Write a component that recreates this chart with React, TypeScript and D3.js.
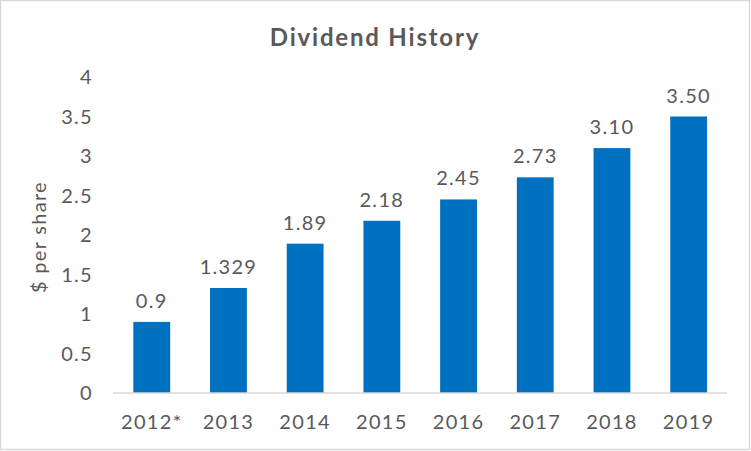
import React from "react";
import * as d3 from "d3";

const categories = ["2012*", "2013", "2014", "2015", "2016", "2017", "2018", "2019"];
const values = [0.9, 1.329, 1.89, 2.18, 2.45, 2.73, 3.1, 3.5];
const valueLabels = ["0.9", "1.329", "1.89", "2.18", "2.45", "2.73", "3.10", "3.50"];
const yTicks = [0, 0.5, 1, 1.5, 2, 2.5, 3, 3.5, 4];

const W = 751;
const H = 451;
const FONT = "Lato, 'Open Sans', sans-serif";
const TEXT = "#595959";
const LS = 1.3;

export default function App() {
  const x = d3.scaleBand<string>().domain(categories).range([113.4, 727]).padding(0);
  const y = d3.scaleLinear().domain([0, 4]).range([393, 77]);
  const barW = x.bandwidth() * 0.48;

  return (
    <svg width={W} height={H} style={{ position: "absolute", left: 0, top: 0 }}>
      <rect x={0.5} y={0.5} width={W - 2} height={H - 2} fill="#fff" stroke="#d9d9d9" strokeWidth={1.5} />
      <text x={375} y={46} textAnchor="middle" fontFamily={FONT} fontWeight={700} fontSize={24} letterSpacing={1.8} fill={TEXT}>
        Dividend History
      </text>
      <text
        transform={`translate(46,${237}) rotate(-90)`}
        textAnchor="middle"
        fontFamily={FONT}
        fontSize={20}
        letterSpacing={LS}
        fill={TEXT}
      >
        $ per share
      </text>
      {yTicks.map((t) => (
        <text key={t} x={93} y={y(t)} dy="0.35em" textAnchor="end" fontFamily={FONT} fontSize={20} letterSpacing={LS} fill={TEXT}>
          {String(t)}
        </text>
      ))}
      {categories.map((c, i) => {
        const cx = (x(c) as number) + x.bandwidth() / 2;
        return (
          <g key={c}>
            <rect x={cx - barW / 2} y={y(values[i])} width={barW} height={y(0) - y(values[i])} fill="#0070C0" />
            <text x={cx} y={y(values[i]) - 14} textAnchor="middle" fontFamily={FONT} fontSize={20} letterSpacing={LS} fill={TEXT}>
              {valueLabels[i]}
            </text>
            <text x={cx} y={422} dy="0.35em" textAnchor="middle" fontFamily={FONT} fontSize={20} letterSpacing={LS} fill={TEXT}>
              {c}
            </text>
          </g>
        );
      })}
      <line x1={113} x2={727} y1={y(0)} y2={y(0)} stroke="#d9d9d9" strokeWidth={1.5} />
    </svg>
  );
}
